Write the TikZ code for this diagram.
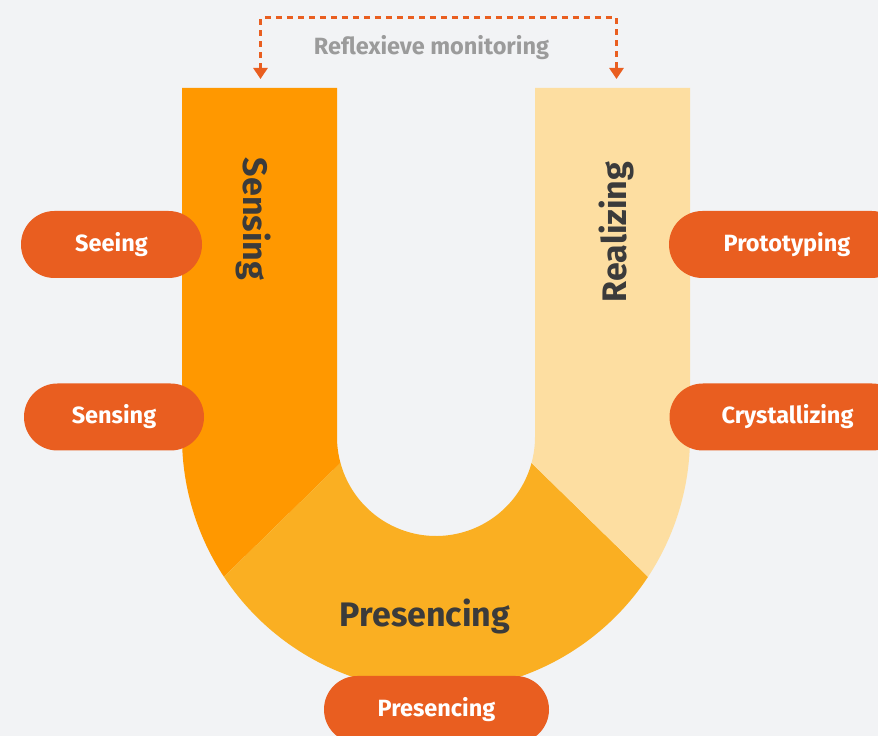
\documentclass[tikz,border=0pt]{standalone}
\usepackage{fontspec}
\setmainfont{Fira Sans}
\usetikzlibrary{positioning,arrows.meta}

\definecolor{bgGray}{HTML}{F2F3F5}
\definecolor{senseOrange}{HTML}{FF9800}
\definecolor{presAmber}{HTML}{FAAF22}
\definecolor{realPeach}{HTML}{FDDEA1}
\definecolor{pillRed}{HTML}{E95E20}
\definecolor{labelDark}{HTML}{3B3B3B}
\definecolor{labelGray}{HTML}{9B9B9B}

\tikzset{
  pill/.style={fill=pillRed, text=white, rounded corners=33.4pt, minimum height=67pt,
    inner sep=0pt, font=\bfseries\fontsize{23.5}{28}\selectfont},
  phase/.style={text=labelDark, inner sep=0pt, font=\bfseries\fontsize{34}{40}\selectfont},
  monitor/.style={draw=pillRed, line width=3pt, dash pattern=on 6pt off 5pt,
    {Triangle[length=11pt,width=14pt]}-{Triangle[length=11pt,width=14pt]}},
}

\begin{document}
\begin{tikzpicture}[x=1pt,y=1pt]
    \useasboundingbox (0,0) rectangle (878,736);
    \clip (0,0) rectangle (878,736);
    \fill[bgGray] (0,0) rectangle (878,736);
    % the U, both arcs centred on (436,299)
    \begin{scope}[shift={(436,299)}]
      \fill[senseOrange] (-254,349) -- (-99,349) -- (-99,0)
        arc[start angle=180, end angle=195.2, radius=99] -- (213.4:254)
        arc[start angle=213.4, end angle=180, radius=254] -- cycle;
      \fill[presAmber] (195.2:99) arc[start angle=195.2, end angle=344.8, radius=99]
        -- (326.6:254) arc[start angle=326.6, end angle=213.4, radius=254] -- cycle;
      \fill[realPeach] (254,349) -- (99,349) -- (99,0)
        arc[start angle=0, end angle=-15.2, radius=99] -- (-33.4:254)
        arc[start angle=-33.4, end angle=0, radius=254] -- cycle;
    \end{scope}
    \node[phase, rotate=-90] (sensingArm) at (254,517) {Sensing};
    \node[phase, rotate=90] (realizingArm) at (616,504) {Realizing};
    \node[phase] (presencingBase) at (425,120) {Presencing};

    % practices
    \node[pill, minimum width=181pt] (seeing) at (111.5,491.5) {Seeing};
    \node[pill, minimum width=180pt] (sensing) at (114,319) {Sensing};
    \node[pill, minimum width=225pt] (presencing) at (436.5,26.5) {Presencing};
    \node[pill, minimum width=236pt] (prototyping) at (787,491.5) {Prototyping};
    \node[pill, minimum width=236pt] (crystallizing) at (787.5,319) {Crystallizing};

    % reflexive loop over the top
    \coordinate (monitorSense) at (260.5,657);
    \coordinate (monitorReal) at (616.5,657);
    \draw[monitor] (monitorSense) -- ++(0,61) -| (monitorReal);
    \node[text=labelGray, font=\bfseries\fontsize{23.5}{28}\selectfont] (monitorLabel) at (431.5,688) {Reflexieve monitoring};
\end{tikzpicture}
\end{document}
